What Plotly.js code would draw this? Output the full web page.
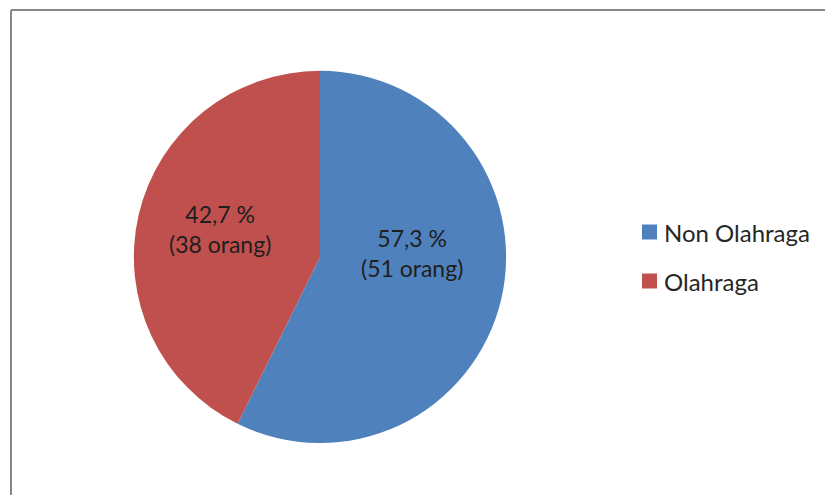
<!DOCTYPE html>
<html>
<head>
<meta charset="utf-8">
<script src="https://cdn.plot.ly/plotly-3.0.1.min.js"></script>
<style>html,body{margin:0;padding:0;background:#fff;}#chart{width:825px;height:495px;}</style>
</head>
<body>
<div id="chart"></div>
<script>
const labels = ["Non Olahraga", "Olahraga"];
const percents = [57.3, 42.7];
const counts = [51, 38];
const colors = ["#4F81BD", "#C0504D"];

const fmt = (p) => p.toFixed(1).replace('.', ',') + ' %';

const trace = {
  type: 'pie',
  labels: labels,
  values: percents,
  sort: false,
  direction: 'clockwise',
  rotation: 0,
  marker: {colors: colors, line: {width: 0}},
  textinfo: 'none',
  hoverinfo: 'label+percent',
  domain: {x: [0.1612, 0.6145], y: [0.105, 0.857]},
  showlegend: false
};

// label positions (paper coords) for each slice
const labelPos = [[412/825, 1 - 253/495], [220/825, 1 - 229/495]];
const annotations = labels.map((l, i) => ({
  xref: 'paper', yref: 'paper',
  x: labelPos[i][0], y: labelPos[i][1],
  text: fmt(percents[i]) + '<br>(' + counts[i] + ' orang)',
  showarrow: false,
  font: {family: 'Lato, sans-serif', size: 23, color: '#1f1f1f'},
  align: 'center', xanchor: 'center', yanchor: 'middle'
}));

// manual legend
const legendY = [232, 281];
const shapes = [];
labels.forEach((l, i) => {
  shapes.push({
    type: 'rect', xref: 'paper', yref: 'paper',
    x0: 642/825, x1: 657/825,
    y0: 1 - (legendY[i] + 7.5)/495, y1: 1 - (legendY[i] - 7.5)/495,
    fillcolor: colors[i], line: {width: 0}
  });
  annotations.push({
    xref: 'paper', yref: 'paper',
    x: 662/825, y: 1 - legendY[i]/495,
    text: l, showarrow: false,
    font: {family: 'Lato, sans-serif', size: 24, color: '#262626'},
    xanchor: 'left', yanchor: 'middle'
  });
});

// chart border (top and left visible)
shapes.push({type: 'line', xref: 'paper', yref: 'paper', x0: 11/825, x1: 1, y0: 1 - 10/495, y1: 1 - 10/495, line: {color: '#868686', width: 2}});
shapes.push({type: 'line', xref: 'paper', yref: 'paper', x0: 11/825, x1: 11/825, y0: 0, y1: 1 - 10/495, line: {color: '#868686', width: 2}});

const layout = {
  width: 825, height: 495,
  margin: {l: 0, r: 0, t: 0, b: 0},
  paper_bgcolor: '#ffffff',
  showlegend: false,
  annotations: annotations,
  shapes: shapes
};

Plotly.newPlot('chart', [trace], layout, {displayModeBar: false, staticPlot: true});
</script>
</body>
</html>
